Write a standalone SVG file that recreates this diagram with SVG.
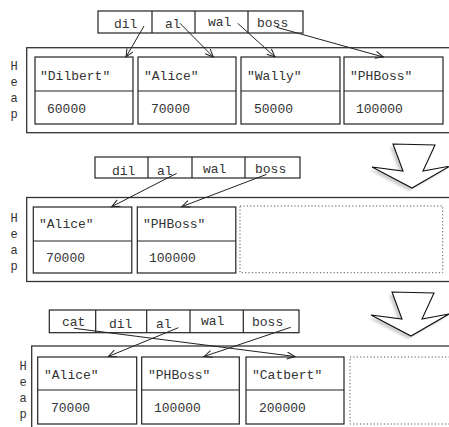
<svg xmlns="http://www.w3.org/2000/svg" width="449" height="427" viewBox="0 0 449 427">
<style>
.bx{fill:#fff;stroke:#222;stroke-width:1.2}
.out{fill:none;stroke:#333;stroke-width:1.3}
.dot{fill:none;stroke:#555;stroke-width:1;stroke-dasharray:1.2,2.2}
.ln{fill:none;stroke:#222;stroke-width:1.2}
.t{font-family:"Liberation Mono","DejaVu Sans Mono",monospace;font-size:13px;fill:#333}
.h{font-family:"Liberation Mono","DejaVu Sans Mono",monospace;font-size:12px;fill:#333}
.ar{fill:none;stroke:#222;stroke-width:1}
.big{fill:#fff;stroke:#111;stroke-width:1.1;stroke-linejoin:miter}
.sh{fill:#d0d0d0}
</style>
<defs>
<marker id="ah" markerWidth="12" markerHeight="10" refX="9" refY="4" orient="auto" markerUnits="userSpaceOnUse">
<path d="M1,0.5 L9,4 L1,7.5" fill="none" stroke="#222" stroke-width="1"/>
</marker>
<filter id="bl" x="-20%" y="-20%" width="140%" height="140%"><feGaussianBlur stdDeviation="1.2"/></filter>
<polygon id="bigarrow" points="393,144 435,145 423,171 450,166 412,188 372,167 403,171"/>
</defs>

<!-- Panel 1 -->
<g id="heap1">
<rect class="out" x="26.7" y="47.7" width="440" height="85"/>
<text class="h" x="10.5" y="70">H</text><text class="h" x="10.5" y="86">e</text><text class="h" x="10.5" y="102">a</text><text class="h" x="10.5" y="118">p</text>
</g>
<g id="p1-ptrs">
<rect class="bx" x="98" y="11" width="205" height="22"/>
<line class="ln" x1="152" y1="11" x2="152" y2="33"/><line class="ln" x1="195" y1="11" x2="195" y2="33"/><line class="ln" x1="248" y1="11" x2="248" y2="33"/>
<text class="t" x="114" y="28">dil</text><text class="t" x="165" y="28">al</text><text class="t" x="208" y="26">wal</text><text class="t" x="257" y="26.5">boss</text>
</g>
<g id="p1-dilbert"><rect class="bx" x="35" y="57" width="98" height="67"/><line class="ln" x1="35" y1="91" x2="133" y2="91"/><text class="t" x="40" y="80">"Dilbert"</text><text class="t" x="47" y="113">60000</text></g>
<g id="p1-alice"><rect class="bx" x="138" y="57" width="98" height="67"/><line class="ln" x1="138" y1="91" x2="236" y2="91"/><text class="t" x="144" y="80">"Alice"</text><text class="t" x="151" y="113">70000</text></g>
<g id="p1-wally"><rect class="bx" x="241" y="57" width="99" height="67"/><line class="ln" x1="241" y1="91" x2="340" y2="91"/><text class="t" x="247" y="80">"Wally"</text><text class="t" x="254" y="113">50000</text></g>
<g id="p1-phboss"><rect class="bx" x="344" y="57" width="99" height="67"/><line class="ln" x1="344" y1="91" x2="443" y2="91"/><text class="t" x="350" y="80">"PHBoss"</text><text class="t" x="356" y="113">100000</text></g>

<!-- Panel 2 -->
<g id="heap2">
<rect class="out" x="26.7" y="197.5" width="440" height="84"/>
<text class="h" x="10.5" y="222">H</text><text class="h" x="10.5" y="238">e</text><text class="h" x="10.5" y="254">a</text><text class="h" x="10.5" y="270">p</text>
</g>
<g id="p2-ptrs">
<rect class="bx" x="95" y="157" width="205" height="21"/>
<line class="ln" x1="148" y1="157" x2="148" y2="178"/><line class="ln" x1="192" y1="157" x2="192" y2="178"/><line class="ln" x1="245" y1="157" x2="245" y2="178"/>
<text class="t" x="112" y="175">dil</text><text class="t" x="157" y="175">al</text><text class="t" x="203" y="173">wal</text><text class="t" x="255" y="173">boss</text>
</g>
<g id="p2-alice"><rect class="bx" x="33.3" y="207" width="98.5" height="66"/><line class="ln" x1="33.3" y1="241" x2="131.8" y2="241"/><text class="t" x="39" y="228">"Alice"</text><text class="t" x="46" y="262">70000</text></g>
<g id="p2-phboss"><rect class="bx" x="137.3" y="207" width="98.5" height="66"/><line class="ln" x1="137.3" y1="241" x2="235.8" y2="241"/><text class="t" x="143" y="228">"PHBoss"</text><text class="t" x="149" y="262">100000</text></g>
<g id="p2-free"><rect class="dot" x="240" y="206" width="202.7" height="66.7"/></g>

<!-- Panel 3 -->
<g id="heap3">
<rect class="out" x="31.7" y="346" width="440" height="90"/>
<text class="h" x="19.5" y="370">H</text><text class="h" x="19.5" y="386">e</text><text class="h" x="19.5" y="402">a</text><text class="h" x="19.5" y="418">p</text>
</g>
<g id="p3-ptrs">
<rect class="bx" x="49.3" y="310" width="249.7" height="22.7"/>
<line class="ln" x1="95.7" y1="310" x2="95.7" y2="332.7"/><line class="ln" x1="146.7" y1="310" x2="146.7" y2="332.7"/><line class="ln" x1="190" y1="310" x2="190" y2="332.7"/><line class="ln" x1="243.3" y1="310" x2="243.3" y2="332.7"/>
<text class="t" x="62" y="325.5">cat</text><text class="t" x="109" y="328">dil</text><text class="t" x="156" y="327.5">al</text><text class="t" x="201" y="325">wal</text><text class="t" x="252" y="325.5">boss</text>
</g>
<g id="p3-alice"><rect class="bx" x="37.7" y="357" width="99" height="67"/><line class="ln" x1="37.7" y1="390" x2="136.7" y2="390"/><text class="t" x="44" y="379">"Alice"</text><text class="t" x="51" y="412">70000</text></g>
<g id="p3-phboss"><rect class="bx" x="141.7" y="357" width="97.6" height="67"/><line class="ln" x1="141.7" y1="390" x2="239.3" y2="390"/><text class="t" x="148" y="379">"PHBoss"</text><text class="t" x="154" y="412">100000</text></g>
<g id="p3-catbert"><rect class="bx" x="246" y="357" width="98" height="67"/><line class="ln" x1="246" y1="390" x2="344" y2="390"/><text class="t" x="252" y="379">"Catbert"</text><text class="t" x="259" y="412">200000</text></g>
<g id="p3-free"><rect class="dot" x="350" y="357" width="120" height="67"/></g>

<!-- Transition arrows -->
<g id="step1">
<use href="#bigarrow" class="sh" transform="translate(-3,3)" filter="url(#bl)"/>
<use href="#bigarrow" class="big"/>
</g>
<g id="step2" transform="translate(-1,148)">
<use href="#bigarrow" class="sh" transform="translate(-3,3)" filter="url(#bl)"/>
<use href="#bigarrow" class="big"/>
</g>

<!-- Connectors -->
<g id="connectors">
<line class="ar" x1="144" y1="26" x2="126" y2="57" marker-end="url(#ah)"/>
<line class="ar" x1="180" y1="23.3" x2="213.3" y2="57" marker-end="url(#ah)"/>
<line class="ar" x1="237.7" y1="23.3" x2="275" y2="57" marker-end="url(#ah)"/>
<line class="ar" x1="276.7" y1="27.3" x2="383.3" y2="57" marker-end="url(#ah)"/>
<line class="ar" x1="176.7" y1="173.3" x2="111.7" y2="206.7" marker-end="url(#ah)"/>
<line class="ar" x1="266.7" y1="174.3" x2="181.7" y2="206.7" marker-end="url(#ah)"/>
<line class="ar" x1="74" y1="328.3" x2="295" y2="356.5" marker-end="url(#ah)"/>
<line class="ar" x1="178.3" y1="327.7" x2="108.3" y2="356.5" marker-end="url(#ah)"/>
<line class="ar" x1="290.7" y1="327.3" x2="204" y2="356.5" marker-end="url(#ah)"/>
</g>
</svg>
